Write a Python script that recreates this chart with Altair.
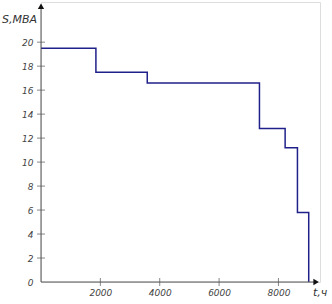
import altair as alt
import pandas as pd

# step load curve
t_hours = [0, 1850, 3580, 7360, 8225, 8640, 9020]
s_mva = [19.5, 17.5, 16.6, 12.8, 11.2, 5.8, 0]

y_ticks = [0, 2, 4, 6, 8, 10, 12, 14, 16, 18, 20]
x_ticks = [2000, 4000, 6000, 8000]

X_MAX = 9400
Y_MAX = 23.35

line_df = pd.DataFrame({"t": t_hours, "s": s_mva})
ytick_df = pd.DataFrame({"v": [v for v in y_ticks if v > 0]})
xtick_df = pd.DataFrame({"v": x_ticks})

xs = alt.Scale(domain=[0, X_MAX], nice=False, zero=True)
ys = alt.Scale(domain=[0, Y_MAX], nice=False, zero=True)

font = "DejaVu Sans"
lab_col = "#444444"
ax_col = "#555555"

x_axis = alt.Axis(values=x_ticks, domain=False, ticks=False, grid=False, title=None, format="d",
                  labelOverlap=False, labelFont=font, labelFontStyle="italic", labelFontSize=9,
                  labelColor=lab_col, labelPadding=6)
y_axis = alt.Axis(values=y_ticks, domain=False, ticks=False, grid=False, title=None, format="d",
                  labelOverlap=False, labelFont=font, labelFontStyle="italic", labelFontSize=9,
                  labelColor=lab_col, labelPadding=8)

step = alt.Chart(line_df).mark_line(interpolate="step-after", color="#20208a", strokeWidth=1.5).encode(
    x=alt.X("t:Q", scale=xs, axis=x_axis),
    y=alt.Y("s:Q", scale=ys, axis=y_axis),
)

xaxis_line = alt.Chart().mark_rule(color=ax_col, strokeWidth=1).encode(
    x=alt.datum(0, scale=xs, axis=x_axis), x2=alt.datum(X_MAX - 150), y=alt.datum(0, scale=ys, axis=y_axis)
)
yaxis_line = alt.Chart().mark_rule(color=ax_col, strokeWidth=1).encode(
    x=alt.datum(0, scale=xs, axis=x_axis), y=alt.datum(0, scale=ys, axis=y_axis), y2=alt.datum(Y_MAX - 0.3)
)

y_tick_marks = alt.Chart(ytick_df).mark_tick(orient="horizontal", color=ax_col, size=8, thickness=1).encode(
    x=alt.datum(0, scale=xs, axis=x_axis), y=alt.Y("v:Q", scale=ys, axis=y_axis)
)
x_tick_marks = alt.Chart(xtick_df).mark_tick(orient="vertical", color=ax_col, size=8, thickness=1).encode(
    x=alt.X("v:Q", scale=xs, axis=x_axis), y=alt.datum(0, scale=ys, axis=y_axis)
)

y_arrow = alt.Chart().mark_point(shape="triangle-up", filled=True, color="#111111", size=40, opacity=1).encode(
    x=alt.datum(0, scale=xs, axis=x_axis), y=alt.datum(Y_MAX - 0.35, scale=ys, axis=y_axis)
)
x_arrow = alt.Chart().mark_point(shape="triangle-right", filled=True, color="#111111", size=40, opacity=1).encode(
    x=alt.datum(X_MAX - 130, scale=xs, axis=x_axis), y=alt.datum(0, scale=ys, axis=y_axis)
)

y_title = alt.Chart().mark_text(text="S,MBA", font=font, fontStyle="italic", fontSize=11,
                                color="#333333", align="left", baseline="middle").encode(
    x=alt.value(-39), y=alt.value(18)
)
x_title = alt.Chart().mark_text(text="t,ч", font=font, fontStyle="italic", fontSize=11,
                                color="#333333", align="left", baseline="middle").encode(
    x=alt.value(272), y=alt.value(291)
)

chart = alt.layer(
    step, xaxis_line, yaxis_line, y_tick_marks, x_tick_marks, y_arrow, x_arrow, y_title, x_title
).properties(
    width=279, height=280,
    autosize=alt.AutoSizeParams(type="none"),
    padding={"left": 41, "top": 2, "right": 12, "bottom": 22},
).configure_view(stroke=None).configure(background="white")

chart.save("out.html", embed_options={"renderer": "svg", "actions": False})
